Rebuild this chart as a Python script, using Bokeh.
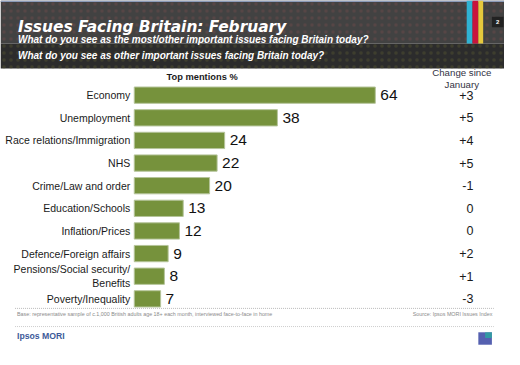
from bokeh.plotting import figure
from bokeh.models import Range1d, ColumnDataSource
from bokeh.core.properties import value
from bokeh.embed import file_html
from bokeh.resources import INLINE

# ---- data ----
categories = ["Economy", "Unemployment", "Race relations/Immigration", "NHS",
              "Crime/Law and order", "Education/Schools", "Inflation/Prices",
              "Defence/Foreign affairs", "Pensions/Social security/\nBenefits",
              "Poverty/Inequality"]
top_mentions = [64, 38, 24, 22, 20, 13, 12, 9, 8, 7]
change_since_jan = ["+3", "+5", "+4", "+5", "-1", "0", "0", "+2", "+1", "-3"]

title = "Issues Facing Britain: February"
subtitle1 = "What do you see as the most/other important issues facing Britain today?"
subtitle2 = "What do you see as other important issues facing Britain today?"
base_note = "Base: representative sample of c.1,000 British adults age 18+ each month, interviewed face-to-face in home"
source_note = "Source: Ipsos MORI  Issues Index"

# ---- layout (geometry expressed in reference-image pixels, 520x365) ----
W, H = 504, 349
REF_W, REF_H = 520, 365
BAR_X0 = 138.0               # reference x where value 0 sits
PX_PER_UNIT = 3.886
ROW0_Y = 99.0                # reference y of first row centre
ROW_STEP = 23.67

def fx(rx):
    return (rx - BAR_X0) / PX_PER_UNIT

def fy(ry):
    return (ry - ROW0_Y) / ROW_STEP

rows = list(range(len(categories)))

p = figure(width=W, height=H, output_backend="svg", toolbar_location=None,
           x_range=Range1d(fx(0), fx(REF_W)),
           y_range=Range1d(fy(REF_H), fy(0)),
           min_border=0, outline_line_color=None)
p.axis.visible = False
p.grid.visible = False
p.background_fill_color = "white"
p.border_fill_color = "white"

SANS = value("Liberation Sans")

# ---- header ----
p.quad(left=fx(0), right=fx(REF_W), top=fy(0), bottom=fy(45), fill_color="#424242",
       line_color=None, hatch_pattern=".", hatch_color="#6a4a4a", hatch_scale=7, hatch_alpha=0.5)
p.quad(left=fx(0), right=fx(REF_W), top=fy(45), bottom=fy(71), fill_color="#2c2c2c",
       line_color=None, hatch_pattern=".", hatch_color="#505030", hatch_scale=7, hatch_alpha=0.5)
p.quad(left=fx(0), right=fx(REF_W), top=fy(0), bottom=fy(1.5), fill_color="#8a9ab8", line_color=None)
stripe_l = [481, 487, 493]
stripe_r = [487, 493, 498]
stripe_c = ["#2fb3d3", "#c8143c", "#e6c83c"]
p.quad(left=[fx(v) for v in stripe_l], right=[fx(v) for v in stripe_r],
       top=fy(0), bottom=fy(45), fill_color=stripe_c, line_color=None)
p.quad(left=fx(507), right=fx(519), top=fy(17), bottom=fy(28), fill_color="#222222", line_color=None)
p.text(x=[fx(513)], y=[fy(22.5)], text=["2"], text_color="white", text_font=SANS,
       text_font_style="bold", text_font_size="6px", text_align="center", text_baseline="middle")

p.text(x=[fx(18)], y=[fy(27.5)], text=[title], text_color="white",
       text_font=value("DejaVu Sans"), text_font_style="bold italic", text_font_size="15.4px",
       text_align="left", text_baseline="alphabetic")
p.text(x=[fx(18)], y=[fy(40.5)], text=[subtitle1], text_color="white", text_font=SANS,
       text_font_style="bold italic", text_font_size="10px", text_align="left", text_baseline="middle")
p.text(x=[fx(18)], y=[fy(58)], text=[subtitle2], text_color="white", text_font=SANS,
       text_font_style="bold italic", text_font_size="10px", text_align="left", text_baseline="middle")

# ---- column headings ----
p.text(x=[fx(208)], y=[fy(80)], text=["Top mentions %"], text_color="#1a1a1a", text_font=SANS,
       text_font_style="bold", text_font_size="9.3px", text_align="center", text_baseline="middle")
p.text(x=[fx(476)], y=[fy(81.5)], text=["Change since\nJanuary"], text_color="#333344", text_font=SANS,
       text_font_size="9.7px", text_align="center", text_baseline="middle", text_line_height=1.1)

# ---- bars ----
src = ColumnDataSource(dict(y=rows, v=top_mentions, cat=categories, chg=change_since_jan,
                            lbl=[str(v) for v in top_mentions]))
p.hbar(y="y", left=0, right="v", height=0.72, source=src, fill_color="#76923c",
       line_color="#b5c49a", line_width=1)
p.text(x="v", y="y", text="lbl", source=src, x_offset=5, text_color="#111111", text_font=SANS,
       text_font_size="15.5px", text_align="left", text_baseline="middle")
p.text(x=0, y="y", text="cat", source=src, x_offset=-4, text_color="#1a1a1a", text_font=SANS,
       text_font_size="10.5px", text_align="right", text_baseline="middle", text_line_height=1.2)
p.text(x=fx(488), y="y", text="chg", source=src, text_color="#1a1a1a", text_font=SANS,
       text_font_size="12.5px", text_align="right", text_baseline="middle")

# ---- footer ----
p.line(x=[fx(15), fx(509)], y=[fy(322), fy(322)], line_color="#bbbbbb", line_width=1, line_dash="1 1")
p.line(x=[fx(15), fx(509)], y=[fy(341), fy(341)], line_color="#cccccc", line_width=1, line_dash="1 1")
p.text(x=[fx(17)], y=[fy(328)], text=[base_note], text_color="#8a8a8a", text_font=SANS,
       text_font_size="5.35px", text_align="left", text_baseline="middle")
p.text(x=[fx(509)], y=[fy(328)], text=[source_note], text_color="#8a8a8a", text_font=SANS,
       text_font_size="5.35px", text_align="right", text_baseline="middle")
p.text(x=[fx(17)], y=[fy(351)], text=["Ipsos MORI"], text_color="#3d5a99", text_font=SANS,
       text_font_style="bold", text_font_size="8.7px", text_align="left", text_baseline="middle")
p.quad(left=fx(493), right=fx(507), top=fy(347), bottom=fy(360), fill_color="#5560b0",
       line_color=None)
p.quad(left=fx(500), right=fx(507), top=fy(347), bottom=fy(353), fill_color="#2aa8a0",
       line_color=None, fill_alpha=0.8)

open("out.html", "w").write(file_html(p, INLINE))
